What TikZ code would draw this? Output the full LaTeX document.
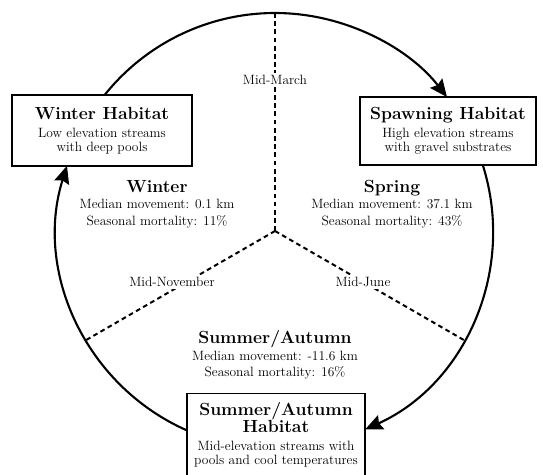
\documentclass[tikz,border=0pt]{standalone}
\usepackage{tikz}
\usetikzlibrary{calc, arrows.meta, positioning}

\newcommand{\headfont}{\fontsize{15}{17}\selectfont\bfseries}
\newcommand{\bodyfont}{\fontsize{11.5}{14}\selectfont}

\begin{document}
\begin{tikzpicture}[x=0.3mm, y=0.3mm, >={Stealth[length=15pt, width=13pt, inset=2pt]}]
    \tikzset{
        habitat/.style={draw, line width=1.1pt, fill=white, align=center, inner sep=0pt},
        season/.style={align=center, font=\fontsize{11.5}{14}\selectfont},
        month/.style={fill=white, inner sep=2pt, font=\fontsize{11.5}{13}\selectfont},
        cycle/.style={->, line width=1.8pt},
        split/.style={line width=1.7pt, dash pattern=on 4pt off 3pt}
    }
    \useasboundingbox (0,0) rectangle (543,475);
    \def\R{218}

    % Mittelpunkt und Trennlinien
    \coordinate (hub) at (275,244);
    \coordinate (march) at ($(hub)+(90:\R)$);
    \coordinate (november) at ($(hub)+(210:\R)$);
    \coordinate (june) at ($(hub)+(330:\R)$);
    \draw[split] (hub) -- (march);
    \draw[split] (hub) -- (november);
    \draw[split] (hub) -- (june);
    \node[month] (lmarch) at (275,395) {Mid-March};
    \node[month] (lnov) at (172,193) {Mid-November};
    \node[month] (ljune) at (363,193) {Mid-June};

    % Kreisboegen zwischen den Habitaten
    \draw[cycle] ($(hub)+(141.4:\R)$) arc[start angle=141.4, end angle=37.9, radius=\R];
    \draw[cycle] ($(hub)+(17.6:\R)$) arc[start angle=17.6, end angle=-65.6, radius=\R];
    \draw[cycle] ($(hub)+(246.2:\R)$) arc[start angle=246.2, end angle=162.6, radius=\R];

    % Habitate
    \node[habitat, minimum width=54mm, minimum height=21.3mm] (winter) at (102,344.5)
        {{\headfont Winter Habitat}\\[3pt]
         {\bodyfont Low elevation streams}\\
         {\bodyfont with deep pools}};
    \node[habitat, minimum width=52.8mm, minimum height=20.4mm] (spawning) at (448,344)
        {{\headfont Spawning Habitat}\\[3pt]
         {\bodyfont High elevation streams}\\
         {\bodyfont with gravel substrates}};
    \node[habitat, minimum width=53.4mm, anchor=north, inner ysep=7pt] (summer) at (276,82)
        {{\headfont Summer/Autumn}\\
         {\headfont Habitat}\\[3pt]
         {\bodyfont Mid-elevation streams with}\\
         {\bodyfont pools and cool temperatures\rule[-30pt]{0pt}{30pt}}};

    % Jahreszeiten
    \node[season] (swinter) at (157,271)
        {{\headfont Winter}\\
         Median movement: 0.1 km\\ Seasonal mortality: 11\%};
    \node[season] (sspring) at (392,271)
        {{\headfont Spring}\\
         Median movement: 37.1 km\\ Seasonal mortality: 43\%};
    \node[season] (ssummer) at (275,120)
        {{\headfont Summer/Autumn}\\
         Median movement: -11.6 km\\ Seasonal mortality: 16\%};
\end{tikzpicture}
\end{document}
